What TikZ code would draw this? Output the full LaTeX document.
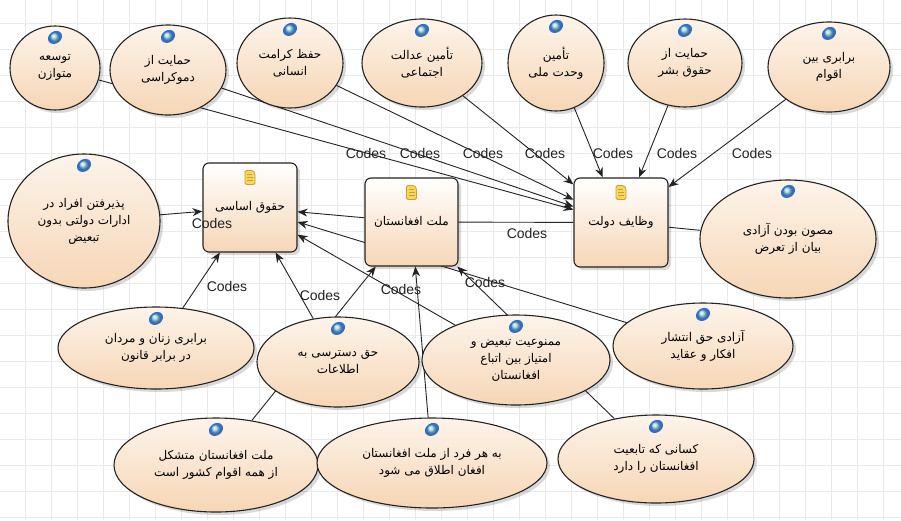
\documentclass[tikz,border=0pt]{standalone}
\usepackage{fontspec}
\setmainfont{Liberation Sans}
\newfontfamily\farsi[Script=Arabic]{DejaVu Sans}
\TeXXeTstate=1
\usetikzlibrary{shapes.geometric,arrows.meta,shadows}
\newcommand{\fa}[1]{\beginR #1\endR}
\definecolor{peachtop}{RGB}{253,244,234}
\definecolor{peachbot}{RGB}{246,214,182}
\definecolor{ink}{RGB}{35,35,35}
\definecolor{gridc}{RGB}{234,234,234}
\definecolor{orbdark}{RGB}{50,110,205}
\definecolor{orblight}{RGB}{150,220,255}
\definecolor{pagefill}{RGB}{247,215,95}
\definecolor{pageedge}{RGB}{205,160,45}
\pgfdeclarelayer{grid}
\pgfdeclarelayer{wires}
\pgfsetlayers{grid,wires,main}
\tikzset{
topic/.style={ellipse,draw=ink,line width=1.1pt,inner sep=0pt,
  top color=peachtop,bottom color=peachbot,
  drop shadow={shadow xshift=3pt,shadow yshift=-3pt,fill=black,opacity=0.15},
  font=\farsi\fontsize{12}{17}\selectfont,align=center},
box/.style={rectangle,rounded corners=6pt,draw=ink,line width=1.1pt,inner sep=0pt,
  top color=white,bottom color=peachbot,
  drop shadow={shadow xshift=3pt,shadow yshift=-3pt,fill=black,opacity=0.15},
  font=\farsi\fontsize{12}{17}\selectfont,align=center},
codes/.style={font=\fontsize{14}{14}\selectfont,inner sep=0pt,text=ink},
link/.style={draw=ink,line width=0.9pt},
flow/.style={link,-{Stealth[length=10pt,width=8pt]}},
orb/.pic={
  \fill[orbdark,rotate=35] (0,0) ellipse (7.5pt and 6pt);
  \shade[ball color=orblight] (0,0) circle (4.8pt);
},
page/.pic={
  \filldraw[fill=pagefill,draw=pageedge,line width=0.8pt,rounded corners=1.5pt]
    (-5pt,-7pt) -- (-5pt,7pt) -- (3pt,7pt) -- (5pt,4pt) -- (5pt,-7pt) -- cycle;
  \draw[pageedge,line width=0.5pt] (-3pt,3pt) -- (2pt,3pt) (-3pt,0pt) -- (3pt,0pt) (-3pt,-3pt) -- (3pt,-3pt);
}
}
\begin{document}
\begin{tikzpicture}[x=1pt,y=-1pt]
\useasboundingbox (0,0) rectangle (901,520);
\begin{pgfonlayer}{grid}
\fill[white] (0,0) rectangle (901,520);
\foreach \gx in {25,51,...,901} \draw[gridc,line width=0.5pt] (\gx,0) -- (\gx,520);
\foreach \gy in {23,49,...,520} \draw[gridc,line width=0.5pt] (0,\gy) -- (901,\gy);
\end{pgfonlayer}

\node[topic,minimum width=90,minimum height=84] (e1) at (55,68) {\fa{توسعه}\\\fa{متوازن}};
\node[topic,minimum width=116,minimum height=90] (e2) at (168,70) {\fa{حمایت از}\\\fa{دموکراسی}};
\node[topic,minimum width=106,minimum height=90] (e3) at (290,63) {\fa{حفظ کرامت}\\\fa{انسانی}};
\node[topic,minimum width=120,minimum height=88] (e4) at (422,63) {\fa{تأمین عدالت}\\\fa{اجتماعی}};
\node[topic,minimum width=96,minimum height=96] (e5) at (556,63) {\fa{تأمین}\\\fa{وحدت ملی}};
\node[topic,minimum width=114,minimum height=88] (e6) at (685,63) {\fa{حمایت از}\\\fa{حقوق بشر}};
\node[topic,minimum width=122,minimum height=90] (e7) at (829,67) {\fa{برابری بین}\\\fa{اقوام}};

\node[box,minimum width=94,minimum height=89] (hq) at (250,207.5) {\fa{حقوق اساسی}};
\node[box,minimum width=93,minimum height=88] (mf) at (411.5,222) {\fa{ملت افغانستان}};
\node[box,minimum width=94,minimum height=89] (wd) at (621,222.5) {\fa{وظایف دولت}};

\node[topic,minimum width=152,minimum height=134] (pz) at (84,221) {\fa{پذیرفتن افراد در}\\\fa{ادارات دولتی بدون}\\\fa{تبعیض}};
\node[topic,minimum width=176,minimum height=118] (ms) at (788,239) {\fa{مصون بودن آزادی}\\\fa{بیان از تعرض}};

\node[topic,minimum width=196,minimum height=82] (bz) at (156,348) {\fa{برابری زنان و مردان}\\\fa{در برابر قانون}};
\node[topic,minimum width=162,minimum height=90] (hd) at (338,362) {\fa{حق دسترسی به}\\\fa{اطلاعات}};
\node[topic,minimum width=188,minimum height=90] (mt) at (516,360) {\fa{ممنوعیت تبعیض و}\\\fa{امتیاز بین اتباع}\\\fa{افغانستان}};
\node[topic,minimum width=180,minimum height=86] (az) at (703,346) {\fa{آزادی حق انتشار}\\\fa{افکار و عقاید}};
\node[topic,minimum width=204,minimum height=94] (mk) at (216,465) {\fa{ملت افغانستان متشکل}\\\fa{از همه اقوام کشور است}};
\node[topic,minimum width=230,minimum height=90] (hf) at (432,463) {\fa{به هر فرد از ملت افغانستان}\\\fa{افغان اطلاق می شود}};
\node[topic,minimum width=196,minimum height=88] (kt) at (656,459) {\fa{کسانی که تابعیت}\\\fa{افغانستان را دارد}};

\foreach \n in {e1,e2,e3,e4,e5,e6,e7,pz,ms,bz,hd,mt,az,mk,hf,kt}
  \pic at ([yshift=-12pt]\n.north) {orb};
\foreach \n in {hq,mf,wd}
  \pic at ([yshift=-15pt]\n.north) {page};

\begin{pgfonlayer}{wires}
\foreach \n in {e1,e2,e3,e4,e5,e6,e7}
  \draw[flow] (\n) -- (wd);
\draw[flow] (pz) -- (hq);
\draw[flow] (mf) -- (hq);
\draw[link] (mf) -- (wd);
\draw[link] (wd) -- (ms);
\draw[flow] (bz) -- (hq);
\draw[flow] (hd) -- (hq);
\draw[flow] (mk) -- (mf);
\draw[flow] (mt) -- (hq);
\draw[flow] (az) -- (hq);
\draw[flow] (hf) -- (mf);
\draw[flow] (kt) -- (mf);
\end{pgfonlayer}

\foreach \cx in {366,420,483,545,613,677,752}
  \node[codes] at (\cx,153) {Codes};
\node[codes] (cpz) at (212,223) {Codes};
\node[codes] (cmw) at (527,233) {Codes};
\node[codes] (cbz) at (227,286) {Codes};
\node[codes] (chd) at (320,295) {Codes};
\node[codes] (chf) at (401,289) {Codes};
\node[codes] (ckt) at (485,282) {Codes};
\end{tikzpicture}
\end{document}
